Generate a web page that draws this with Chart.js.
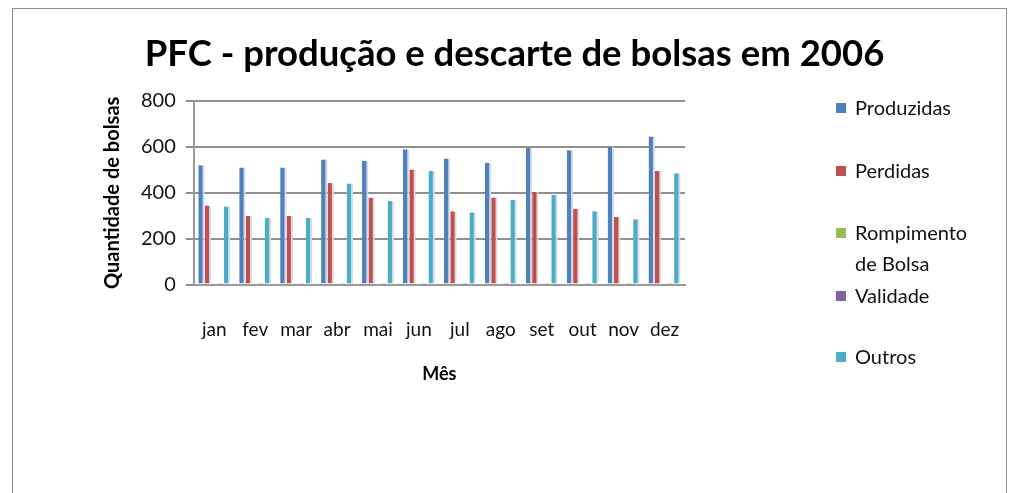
<!DOCTYPE html>
<html>
<head>
<meta charset="utf-8">
<script src="https://cdn.jsdelivr.net/npm/chart.js@4/dist/chart.umd.min.js"></script>
<style>
    body { margin: 0; background: #fff; font-family: Lato, "Liberation Sans", sans-serif; }
    #wrap { position: relative; width: 1013px; height: 493px; overflow: hidden; }
    #frame { position: absolute; left: 12px; top: 8px; width: 995px; height: 520px; border: 1px solid #8c8c8c; box-sizing: border-box; }
    canvas { position: absolute; left: 0; top: 0; }
    #title { position: absolute; left: 0; width: 1029px; top: 29px; text-align: center; font-size: 36.5px; font-weight: bold; line-height: 46px; color: #000; white-space: nowrap; }
    #legend { position: absolute; left: 836px; top: 0; font-size: 20px; color: #111; }
    .item { position: absolute; left: 0; white-space: nowrap; line-height: 31px; }
    .item span.box { position: absolute; left: 0; top: 11px; width: 10px; height: 10px; }
    .item span.txt { position: absolute; left: 19px; top: 0; }
</style>
</head>
<body>
<div id="wrap">
    <div id="frame"></div>
    <canvas id="chart" width="1013" height="493"></canvas>
    <div id="title">PFC - produção e descarte de bolsas em 2006</div>
    <div id="legend"></div>
</div>
<script>
const meses = ['jan', 'fev', 'mar', 'abr', 'mai', 'jun', 'jul', 'ago', 'set', 'out', 'nov', 'dez'];
const produzidas = [520, 510, 510, 545, 540, 590, 550, 530, 595, 585, 600, 645];
const perdidas = [345, 300, 300, 443, 380, 502, 320, 380, 405, 330, 295, 495];
const rompimento = [6, 6, 6, 6, 6, 6, 6, 6, 6, 6, 6, 6];
const validade = [3, 3, 3, 3, 3, 3, 3, 3, 3, 3, 3, 3];
const outros = [340, 290, 290, 440, 365, 495, 315, 370, 390, 320, 285, 485];
const yTicks = [0, 200, 400, 600, 800];

const series = [
    { label: 'Produzidas', data: produzidas, color: '#4F81BD', top: 92 },
    { label: 'Perdidas', data: perdidas, color: '#C0504D', top: 155 },
    { label: 'Rompimento|de Bolsa', data: rompimento, color: '#9BBB59', top: 217 },
    { label: 'Validade', data: validade, color: '#8064A2', top: 280 },
    { label: 'Outros', data: outros, color: '#4BACC6', top: 341 }
];

// legend as html, the library legend can't do the wrapped label
const legendDiv = document.getElementById('legend');
series.forEach(s => {
    let item = document.createElement('div');
    item.className = 'item';
    item.style.top = s.top + 'px';
    let box = document.createElement('span');
    box.className = 'box';
    box.style.background = s.color;
    let txt = document.createElement('span');
    txt.className = 'txt';
    txt.innerHTML = s.label.split('|').join('<br>');
    item.appendChild(box);
    item.appendChild(txt);
    legendDiv.appendChild(item);
});

const font = 'Lato, "Liberation Sans", sans-serif';

new Chart(document.getElementById('chart'), {
    type: 'bar',
    data: {
        labels: meses,
        datasets: series.map(s => ({
            label: s.label.replace('|', ' '),
            data: s.data,
            backgroundColor: s.color,
            borderColor: '#d5dce6',
            borderWidth: { right: 2 },
            borderSkipped: false,
            categoryPercentage: 0.78,
            barPercentage: 1
        }))
    },
    options: {
        responsive: false,
        animation: false,
        layout: { padding: { left: 97, right: 328, top: 101, bottom: 104 } },
        plugins: {
            legend: { display: false },
            tooltip: { enabled: false },
            title: { display: false }
        },
        scales: {
            x: {
                grid: { display: false },
                border: { color: '#999', width: 2 },
                ticks: { font: { family: font, size: 19 }, color: '#111', padding: 26 },
                title: { display: true, text: 'Mês', font: { family: font, size: 18, weight: 'bold' }, color: '#000', padding: { top: -4 } }
            },
            y: {
                min: 0,
                max: 800,
                afterBuildTicks: axis => { axis.ticks = yTicks.map(v => ({ value: v })); },
                grid: { color: '#8f8f8f', lineWidth: 2, tickLength: 8 },
                border: { color: '#999', width: 2 },
                ticks: { font: { family: font, size: 20 }, color: '#111', padding: 10 },
                title: { display: true, text: 'Quantidade de bolsas', font: { family: font, size: 20, weight: 'bold' }, color: '#000', padding: { bottom: 6 } }
            }
        }
    }
});
</script>
</body>
</html>
